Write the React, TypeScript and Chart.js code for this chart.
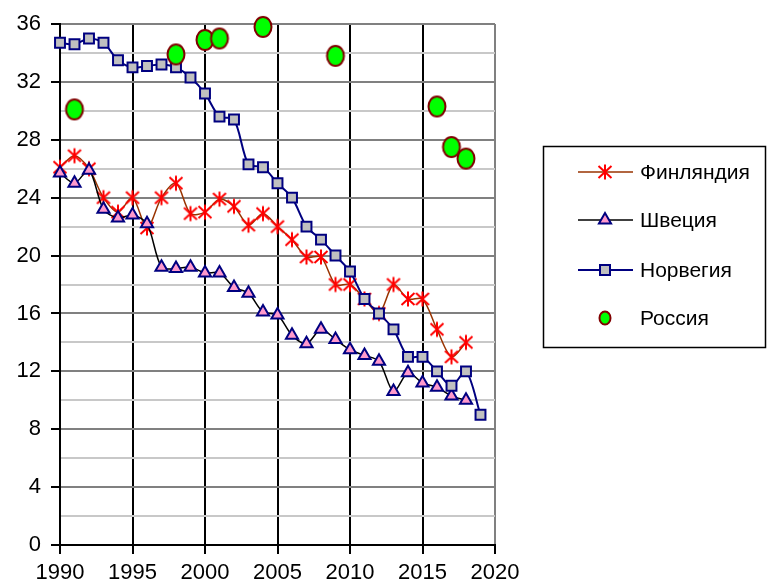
import React, { useEffect, useRef } from 'react';
import { Chart, registerables } from 'chart.js';

Chart.register(...registerables);

const years = [1990, 1991, 1992, 1993, 1994, 1995, 1996, 1997, 1998, 1999, 2000, 2001, 2002, 2003, 2004, 2005, 2006, 2007, 2008, 2009, 2010, 2011, 2012, 2013, 2014, 2015, 2016, 2017, 2018, 2019];
const finland = [26.1, 26.9, 26.0, 24.0, 23.0, 24.0, 21.9, 24.0, 25.0, 22.9, 23.0, 23.9, 23.4, 22.1, 22.9, 22.0, 21.1, 19.9, 19.9, 18.0, 18.0, 17.0, 16.0, 18.0, 17.0, 17.0, 14.9, 13.0, 14.0, null];
const sweden = [25.7, 25.0, 25.9, 23.2, 22.6, 22.8, 22.2, 19.2, 19.1, 19.2, 18.8, 18.8, 17.8, 17.4, 16.1, 15.9, 14.5, 13.9, 14.9, 14.2, 13.5, 13.1, 12.7, 10.6, 11.9, 11.2, 10.9, 10.3, 10.0, null];
const norway = [34.7, 34.6, 35.0, 34.7, 33.5, 33.0, 33.1, 33.2, 33.0, 32.3, 31.2, 29.6, 29.4, 26.3, 26.1, 25.0, 24.0, 22.0, 21.1, 20.0, 18.9, 17.0, 16.0, 14.9, 13.0, 13.0, 12.0, 11.0, 12.0, 9.0];
const russiaYears = [1991, 1998, 2000, 2001, 2004, 2009, 2016, 2017, 2018];
const russia = [30.1, 33.9, 34.9, 35.0, 35.8, 33.8, 30.3, 27.5, 26.7];

const seriesNames = ['Финляндия', 'Швеция', 'Норвегия', 'Россия'];
const xTicks = [1990, 1995, 2000, 2005, 2010, 2015, 2020];
const yMax = 36;

const FONT = '"Liberation Sans", Arial, sans-serif';

function drawStar(ctx: CanvasRenderingContext2D, x: number, y: number) {
  ctx.save();
  ctx.strokeStyle = '#ff0000';
  ctx.lineWidth = 2;
  ctx.beginPath();
  ctx.moveTo(x, y - 7.5);
  ctx.lineTo(x, y + 7.5);
  ctx.moveTo(x - 6.5, y - 6);
  ctx.lineTo(x + 6.5, y + 6);
  ctx.moveTo(x + 6.5, y - 6);
  ctx.lineTo(x - 6.5, y + 6);
  ctx.stroke();
  ctx.restore();
}

function makeStarCanvas() {
  const c = document.createElement('canvas');
  c.width = 18;
  c.height = 18;
  const ctx = c.getContext('2d')!;
  drawStar(ctx, 9, 9);
  return c;
}

function drawEllipse(ctx: CanvasRenderingContext2D, x: number, y: number, rx: number, ry: number) {
  ctx.save();
  ctx.beginPath();
  ctx.ellipse(x, y, rx, ry, 0, 0, Math.PI * 2);
  ctx.fillStyle = '#00ff00';
  ctx.fill();
  ctx.strokeStyle = '#800000';
  ctx.lineWidth = 2;
  ctx.stroke();
  ctx.restore();
}

function makeEllipseCanvas() {
  const c = document.createElement('canvas');
  c.width = 22;
  c.height = 24;
  const ctx = c.getContext('2d')!;
  drawEllipse(ctx, 11, 12, 8.5, 10);
  return c;
}

function drawTri(ctx: CanvasRenderingContext2D, x: number, y: number, r: number) {
  ctx.save();
  ctx.beginPath();
  ctx.moveTo(x, y - r);
  ctx.lineTo(x + r * Math.sin(Math.PI * 2 / 3), y + r / 2);
  ctx.lineTo(x - r * Math.sin(Math.PI * 2 / 3), y + r / 2);
  ctx.closePath();
  ctx.fillStyle = '#ff99cc';
  ctx.fill();
  ctx.strokeStyle = '#000080';
  ctx.lineWidth = 2;
  ctx.stroke();
  ctx.restore();
}

function drawSq(ctx: CanvasRenderingContext2D, x: number, y: number, s: number) {
  ctx.save();
  ctx.fillStyle = '#c0c0c0';
  ctx.strokeStyle = '#000080';
  ctx.lineWidth = 2;
  ctx.fillRect(x - s / 2, y - s / 2, s, s);
  ctx.strokeRect(x - s / 2, y - s / 2, s, s);
  ctx.restore();
}

const legendPlugin = {
  id: 'boxLegend',
  afterDraw(chart: any) {
    const ctx: CanvasRenderingContext2D = chart.ctx;
    ctx.save();
    ctx.strokeStyle = '#000';
    ctx.lineWidth = 1.5;
    ctx.strokeRect(543.5, 146.5, 222, 201);
    const rows = [172, 220, 270, 318];
    const lineColors = ['#993300', '#000000', '#000080', null];
    ctx.font = '21px ' + FONT;
    ctx.fillStyle = '#000';
    ctx.textBaseline = 'middle';
    rows.forEach((y, i) => {
      const lc = lineColors[i];
      if (lc) {
        ctx.strokeStyle = lc;
        ctx.lineWidth = i === 2 ? 2 : 1.5;
        ctx.beginPath();
        ctx.moveTo(578, y);
        ctx.lineTo(633, y);
        ctx.stroke();
      }
      if (i === 0) drawStar(ctx, 605, y);
      if (i === 1) drawTri(ctx, 605, y, 7);
      if (i === 2) drawSq(ctx, 605, y, 10);
      if (i === 3) drawEllipse(ctx, 605, y, 5.5, 6.5);
      ctx.fillStyle = '#000';
      ctx.fillText(seriesNames[i], 640, y + 1);
    });
    ctx.restore();
  },
};

export default function App() {
  const ref = useRef<HTMLCanvasElement | null>(null);
  useEffect(() => {
    const canvas = ref.current!;
    const star = makeStarCanvas();
    const ell = makeEllipseCanvas();
    const mk = (arr: (number | null)[]) => years.map((x, i) => ({ x, y: arr[i] }));
    const chart = new Chart(canvas, {
      type: 'line',
      data: {
        datasets: [
          {
            label: seriesNames[3],
            data: russiaYears.map((x, i) => ({ x, y: russia[i] })),
            showLine: false,
            pointStyle: ell as any,
            pointRadius: 9.5,
            order: 0,
            clip: false,
          },
          {
            label: seriesNames[2],
            data: mk(norway),
            borderColor: '#000080',
            borderWidth: 2,
            tension: 0.3,
            pointStyle: 'rect',
            pointRadius: 7,
            pointBackgroundColor: '#c0c0c0',
            pointBorderColor: '#000080',
            pointBorderWidth: 2,
            order: 1,
            clip: false,
          },
          {
            label: seriesNames[1],
            data: mk(sweden),
            borderColor: '#000000',
            borderWidth: 1.5,
            tension: 0.3,
            pointStyle: 'triangle',
            pointRadius: 7,
            pointBackgroundColor: '#ff99cc',
            pointBorderColor: '#000080',
            pointBorderWidth: 2,
            order: 2,
            clip: false,
          },
          {
            label: seriesNames[0],
            data: mk(finland),
            borderColor: '#993300',
            borderWidth: 1.5,
            tension: 0.3,
            pointStyle: star as any,
            pointRadius: 7,
            order: 3,
            clip: false,
          },
        ] as any,
      },
      options: {
        responsive: false,
        animation: false,
        devicePixelRatio: 1,
        layout: { padding: { top: 24, right: 273, bottom: 0, left: 0 } },
        plugins: { legend: { display: false }, tooltip: { enabled: false } },
        scales: {
          x: {
            type: 'linear',
            min: xTicks[0],
            max: xTicks[xTicks.length - 1],
            afterBuildTicks: (scale: any) => {
              scale.ticks = xTicks.map((v) => ({ value: v }));
            },
            afterFit: (scale: any) => {
              scale.height = 40;
            },
            ticks: {
              color: '#000',
              font: { family: FONT, size: 22 },
              padding: 6,
              maxRotation: 0,
              autoSkip: false,
              callback: (v: any) => String(v),
            },
            grid: {
              color: (c: any) => (c.tick && c.tick.value === 2020 ? '#808080' : '#000000'),
              lineWidth: 2,
              tickLength: 9,
              tickColor: '#000',
            },
            border: { display: true, color: '#000', width: 2 },
          },
          y: {
            type: 'linear',
            min: 0,
            max: yMax,
            afterBuildTicks: (scale: any) => {
              const t = [];
              for (let v = 0; v <= yMax; v += 2) t.push({ value: v });
              scale.ticks = t;
            },
            afterFit: (scale: any) => {
              scale.width = 60;
            },
            ticks: {
              color: '#000',
              font: { family: FONT, size: 22 },
              padding: 10,
              autoSkip: false,
              callback: (v: any) => (v % 4 === 0 ? String(v) : ''),
            },
            grid: {
              color: (c: any) => {
                const v = c.tick ? c.tick.value : 0;
                if (v === 0) return '#000000';
                return v % 4 === 0 ? '#808080' : '#c8c8c8';
              },
              lineWidth: 2,
              tickLength: 9,
              tickColor: (c: any) => {
                const v = c.tick ? c.tick.value : 0;
                return v % 4 === 0 ? '#000000' : 'rgba(0,0,0,0)';
              },
            },
            border: { display: true, color: '#000', width: 2 },
          },
        },
      } as any,
      plugins: [legendPlugin],
    });
    return () => chart.destroy();
  }, []);
  return (
    <div style={{ position: 'fixed', left: 0, top: 0, width: 768, height: 585, background: '#fff' }}>
      <canvas ref={ref} width={768} height={585} style={{ display: 'block' }} />
    </div>
  );
}
